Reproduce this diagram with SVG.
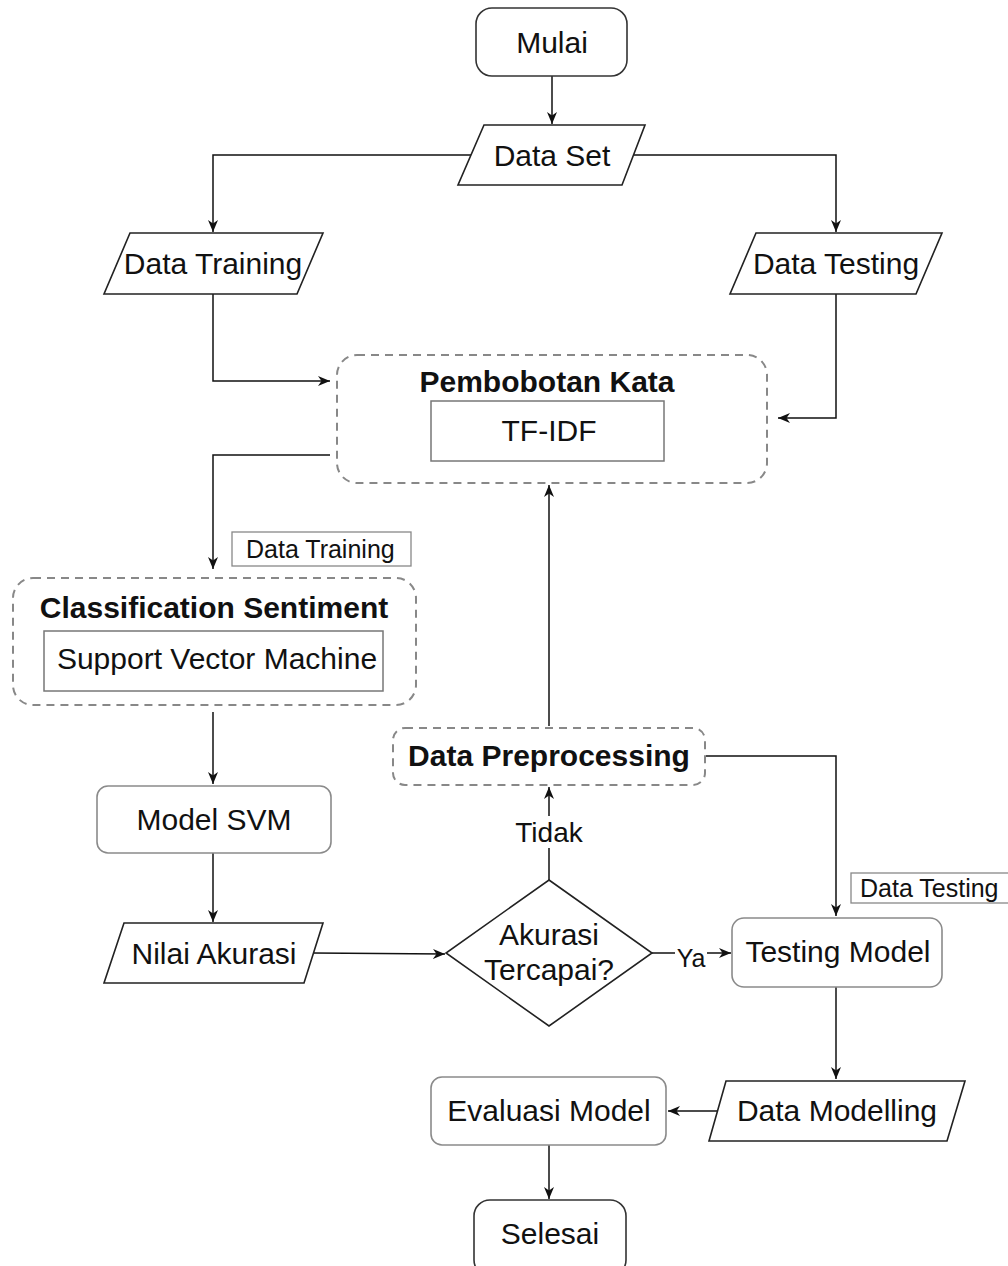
<svg xmlns="http://www.w3.org/2000/svg" width="1008" height="1266" viewBox="0 0 1008 1266">
  <defs>
    <marker id="arrow" markerUnits="userSpaceOnUse" markerWidth="13" markerHeight="11" refX="12" refY="5.5" orient="auto">
      <path d="M0,0.5 L12,5.5 L0,10.5 L3.5,5.5 Z" fill="#111"/>
    </marker>
    <style>
      text { font-family: "Liberation Sans", Arial, sans-serif; fill: #111; }
      .lbl { font-size: 30px; text-anchor: middle; }
      .bold { font-size: 30px; font-weight: bold; text-anchor: middle; }
      .small { font-size: 25px; }
      .term { fill: #fff; stroke: #333; stroke-width: 1.6; }
      .io { fill: #fff; stroke: #222; stroke-width: 1.6; }
      .proc { fill: #fff; stroke: #8a8a8a; stroke-width: 1.6; }
      .group { fill: none; stroke: #888; stroke-width: 2; stroke-dasharray: 8 6; }
      .inner { fill: #fff; stroke: #777; stroke-width: 1.5; }
      .tag { fill: #fff; stroke: #888; stroke-width: 1.3; }
      .edge { fill: none; stroke: #111; stroke-width: 1.5; }
    </style>
  </defs>

  <rect width="1008" height="1266" fill="#fff"/>

  <!-- connectors -->
  <g id="connectors">
    <path class="edge" d="M552,76 V124" marker-end="url(#arrow)"/>
    <path class="edge" d="M471,155 H213 V232" marker-end="url(#arrow)"/>
    <path class="edge" d="M633,155 H836 V232" marker-end="url(#arrow)"/>
    <path class="edge" d="M213,294 V381 H330" marker-end="url(#arrow)"/>
    <path class="edge" d="M836,294 V418 H778" marker-end="url(#arrow)"/>
    <path class="edge" d="M330,455 H213 V569" marker-end="url(#arrow)"/>
    <path class="edge" d="M213,712 V784" marker-end="url(#arrow)"/>
    <path class="edge" d="M213,853 V922" marker-end="url(#arrow)"/>
    <path class="edge" d="M313,953 L445,954" marker-end="url(#arrow)"/>
    <path class="edge" d="M549,880 V787" marker-end="url(#arrow)"/>
    <path class="edge" d="M549,726 V485" marker-end="url(#arrow)"/>
    <path class="edge" d="M706,756 H836 V916" marker-end="url(#arrow)"/>
    <path class="edge" d="M652,953 H731" marker-end="url(#arrow)"/>
    <path class="edge" d="M836,987 V1079" marker-end="url(#arrow)"/>
    <path class="edge" d="M717,1111 H668" marker-end="url(#arrow)"/>
    <path class="edge" d="M549,1145 V1199" marker-end="url(#arrow)"/>
    <!-- edge labels -->
    <rect x="513" y="816" width="72" height="32" fill="#fff"/>
    <text class="lbl" x="549" y="842" style="font-size:28px">Tidak</text>
    <rect x="675" y="942" width="32" height="26" fill="#fff"/>
    <text class="lbl" x="691" y="967" style="font-size:25px">Ya</text>
    <rect class="tag" x="232" y="532" width="179" height="34"/>
    <text class="small" x="246" y="558">Data Training</text>
    <rect class="tag" x="851" y="873" width="160" height="30"/>
    <text class="small" x="860" y="897">Data Testing</text>
  </g>

  <g id="mulai">
    <rect class="term" x="476" y="8" width="151" height="68" rx="16"/>
    <text class="lbl" x="552" y="53">Mulai</text>
  </g>

  <g id="data-set">
    <polygon class="io" points="484,125 645,125 622,185 458,185"/>
    <text class="lbl" x="552" y="166">Data Set</text>
  </g>

  <g id="data-training">
    <polygon class="io" points="130,233 323,233 297,294 104,294"/>
    <text class="lbl" x="213" y="274">Data Training</text>
  </g>

  <g id="data-testing">
    <polygon class="io" points="756,233 942,233 916,294 730,294"/>
    <text class="lbl" x="836" y="274">Data Testing</text>
  </g>

  <g id="pembobotan-kata">
    <rect class="group" x="337" y="355" width="430" height="128" rx="20"/>
    <text class="bold" x="547" y="392">Pembobotan Kata</text>
    <rect class="inner" x="431" y="401" width="233" height="60"/>
    <text class="lbl" x="549" y="441">TF-IDF</text>
  </g>

  <g id="classification-sentiment">
    <rect class="group" x="13" y="578" width="403" height="127" rx="20"/>
    <text class="bold" x="214" y="618">Classification Sentiment</text>
    <rect class="inner" x="44" y="631" width="339" height="60"/>
    <text class="lbl" x="217" y="669">Support Vector Machine</text>
  </g>

  <g id="data-preprocessing">
    <rect class="group" x="393" y="728" width="312" height="57" rx="12"/>
    <text class="bold" x="549" y="766">Data Preprocessing</text>
  </g>

  <g id="model-svm">
    <rect class="proc" x="97" y="786" width="234" height="67" rx="11"/>
    <text class="lbl" x="214" y="830">Model SVM</text>
  </g>

  <g id="nilai-akurasi">
    <polygon class="io" points="124,923 323,923 304,983 104,983"/>
    <text class="lbl" x="214" y="964">Nilai Akurasi</text>
  </g>

  <g id="akurasi-tercapai">
    <polygon class="io" points="549,880 652,953 549,1026 446,953"/>
    <text class="lbl" x="549" y="945">Akurasi</text>
    <text class="lbl" x="549" y="980">Tercapai?</text>
  </g>

  <g id="testing-model">
    <rect class="proc" x="732" y="918" width="210" height="69" rx="12"/>
    <text class="lbl" x="838" y="962">Testing Model</text>
  </g>

  <g id="data-modelling">
    <polygon class="io" points="726,1081 965,1081 947,1141 709,1141"/>
    <text class="lbl" x="837" y="1121">Data Modelling</text>
  </g>

  <g id="evaluasi-model">
    <rect class="proc" x="431" y="1077" width="235" height="68" rx="11"/>
    <text class="lbl" x="549" y="1121">Evaluasi Model</text>
  </g>

  <g id="selesai">
    <rect class="term" x="474" y="1200" width="152" height="76" rx="16"/>
    <text class="lbl" x="550" y="1244">Selesai</text>
  </g>
</svg>
